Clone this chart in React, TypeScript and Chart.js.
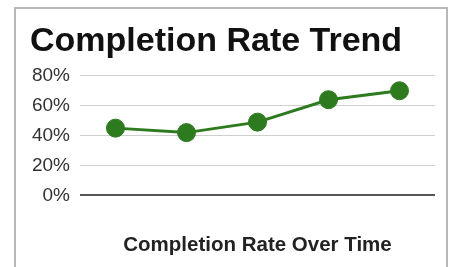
import React, { useEffect, useRef } from "react";
import { Chart, registerables } from "chart.js";

Chart.register(...registerables);

const categories = ["1", "2", "3", "4", "5"];
const completionRate = [45, 42, 49, 64, 70];
const yTicks = [0, 20, 40, 60, 80];
const chartTitle = "Completion Rate Trend";
const xAxisTitle = "Completion Rate Over Time";

const FONT = "'Liberation Sans', Arial, Helvetica, sans-serif";

export default function App() {
  const canvasRef = useRef<HTMLCanvasElement | null>(null);

  useEffect(() => {
    const canvas = canvasRef.current;
    if (!canvas) return;
    const green = "#2d7a1f";
    const chart = new Chart(canvas, {
      type: "line",
      data: {
        labels: categories,
        datasets: [
          {
            data: completionRate,
            borderColor: green,
            backgroundColor: green,
            borderWidth: 3,
            pointRadius: 9,
            pointBorderWidth: 1,
            pointBackgroundColor: green,
            pointBorderColor: green,
            tension: 0,
          },
        ],
      },
      options: {
        animation: false,
        responsive: false,
        maintainAspectRatio: false,
        layout: { padding: { left: 30, right: 21, top: 0, bottom: 0 } },
        plugins: {
          legend: { display: false },
          tooltip: { enabled: false },
          title: {
            display: true,
            text: chartTitle,
            align: "start",
            color: "#111111",
            font: { family: FONT, size: 34, weight: "bold", lineHeight: 1.2 },
            padding: { top: 21, bottom: 14 },
          },
        },
        scales: {
          x: {
            offset: true,
            grid: { display: false, drawTicks: false },
            border: { display: false },
            ticks: { display: false },
            title: {
              display: true,
              text: xAxisTitle,
              color: "#222222",
              font: { family: FONT, size: 20.5, weight: "bold", lineHeight: 1.2 },
              padding: { top: 38, bottom: 9 },
            },
          },
          y: {
            min: yTicks[0],
            max: yTicks[yTicks.length - 1],
            afterBuildTicks: (scale: any) => {
              scale.ticks = yTicks.map((v) => ({ value: v }));
            },
            afterFit: (scale: any) => {
              scale.width = 50;
            },
            grid: {
              drawTicks: false,
              color: (ctx: any) => (ctx.tick && ctx.tick.value === 0 ? "#555555" : "#cfcfcf"),
              lineWidth: (ctx: any) => (ctx.tick && ctx.tick.value === 0 ? 2 : 1),
            },
            border: { display: false },
            ticks: {
              padding: 10,
              color: "#333333",
              font: { family: FONT, size: 19, lineHeight: 1.2 },
              callback: (v: any) => v + "%",
            },
          },
        },
      },
    });
    return () => chart.destroy();
  }, []);

  return (
    <>
      <div
        style={{
          position: "fixed",
          left: 14,
          top: 7,
          width: 434,
          height: 300,
          border: "2px solid #b8b8b8",
          boxSizing: "border-box",
          background: "#ffffff",
        }}
      />
      <canvas
        ref={canvasRef}
        width={456}
        height={267}
        style={{ position: "fixed", left: 0, top: 0, width: 456, height: 267 }}
      />
    </>
  );
}
